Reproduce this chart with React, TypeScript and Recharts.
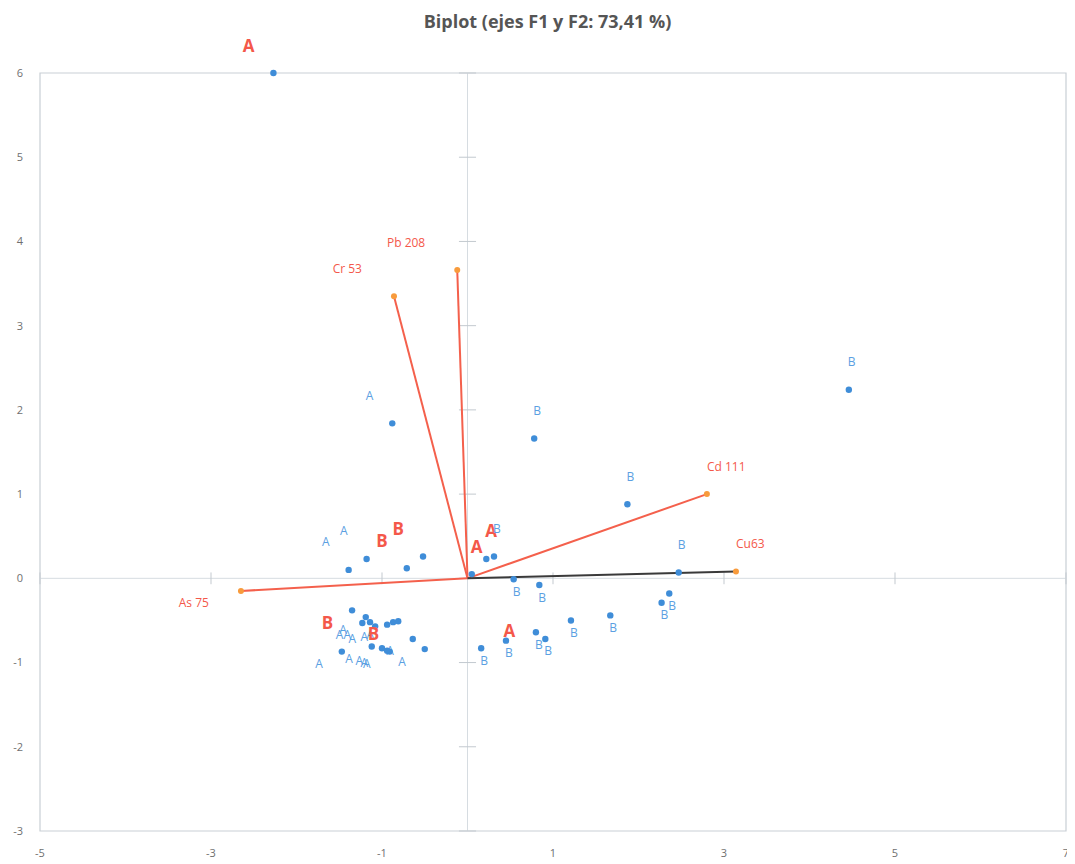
import React from "react";
import {
  ReferenceArea,
  ReferenceLine,
  Scatter,
  ScatterChart,
  XAxis,
  YAxis,
} from "recharts";

// Observations (F1, F2) with their group letter
const obsF1 = [
  -2.27, -0.88, 0.78, 4.46, 1.87, -1.39, -1.18, -0.71, -0.52, 0.22, 0.31, 0.05, 2.47,
  0.54, 0.84, 2.36, 2.27, 1.67, 1.21, 0.8, 0.91, 0.45, 0.16,
  -1.35, -1.19, -1.23, -1.14, -1.08, -0.94, -0.87, -0.81, -0.64, -0.5, -1.12, -1.0, -0.94, -0.91, -1.47,
];
const obsF2 = [
  6.0, 1.84, 1.66, 2.24, 0.88, 0.1, 0.23, 0.12, 0.26, 0.23, 0.26, 0.05, 0.07,
  -0.01, -0.08, -0.18, -0.29, -0.44, -0.5, -0.64, -0.72, -0.74, -0.83,
  -0.38, -0.46, -0.53, -0.52, -0.57, -0.55, -0.52, -0.51, -0.72, -0.84, -0.81, -0.83, -0.86, -0.87, -0.87,
];
const obsGroup = [
  "A", "A", "B", "B", "B", "A", "A", "B", "B", "A", "B", "A", "B",
  "B", "B", "B", "B", "B", "B", "B", "B", "B", "B",
  "B", "A", "A", "A", "A", "A", "A", "B", "A", "A", "A", "A", "A", "A", "A",
];
// observations whose label was marked in red
const highlighted = [0, 7, 8, 9, 11, 23, 30];

// extra red mark without a visible point
const noteF1 = [0.49];
const noteF2 = [-0.62];
const noteText = ["A"];

// Variables (loadings)
const varNames = ["As 75", "Cr 53", "Pb 208", "Cd 111", "Cu63"];
const varF1 = [-2.65, -0.86, -0.12, 2.8, 3.14];
const varF2 = [-0.15, 3.35, 3.66, 1.0, 0.08];
const varColor = ["#f4604c", "#f4604c", "#f4604c", "#f4604c", "#3a3a3a"];

const xTicks = [-5, -3, -1, 1, 3, 5, 7];
const yTicks = [-3, -2, -1, 0, 1, 2, 3, 4, 5, 6];

const BLUE = "#3f8dd8";
const BLUE_TXT = "#5ba0e2";
const RED = "#f4584a";
const ORANGE = "#f89b3c";
const FONT = "'Open Sans', sans-serif";

const observations = obsF1.map((x, i) => ({
  x,
  y: obsF2[i],
  label: obsGroup[i],
  hi: highlighted.includes(i),
}));

const notes = noteF1.map((x, i) => ({ x, y: noteF2[i], label: noteText[i] }));

function ObsShape(props: any) {
  const { cx, cy, payload } = props;
  const left = payload.x < 0;
  const up = payload.y > 0;
  return (
    <g>
      <circle cx={cx} cy={cy} r={3.2} fill={BLUE} />
      <text
        x={cx + (left ? -19 : -1)}
        y={cy + (up ? -28 : 12)}
        textAnchor={left ? "end" : "start"}
        dominantBaseline="central"
        fontFamily={FONT}
        fontSize={payload.hi ? 17 : 12}
        fontWeight={payload.hi ? 700 : 400}
        fill={payload.hi ? RED : BLUE_TXT}
      >
        {payload.label}
      </text>
    </g>
  );
}

function NoteShape(props: any) {
  const { cx, cy, payload } = props;
  return (
    <text
      x={cx}
      y={cy}
      textAnchor="middle"
      dominantBaseline="central"
      fontFamily={FONT}
      fontSize={17}
      fontWeight={700}
      fill={RED}
    >
      {payload.label}
    </text>
  );
}

function VarShape(props: any) {
  const { cx, cy, payload } = props;
  if (!payload.name) return <g />;
  const left = payload.x < 0;
  const up = payload.y > 0;
  return (
    <g>
      <circle cx={cx} cy={cy} r={3} fill={ORANGE} />
      <text
        x={cx + (left ? -32 : 0)}
        y={cy + (up ? -28 : 12)}
        textAnchor={left ? "end" : "start"}
        dominantBaseline="central"
        fontFamily={FONT}
        fontSize={12}
        fill={RED}
      >
        {payload.name}
      </text>
    </g>
  );
}

export default function App() {
  const tick = { fill: "#6f6f6f", fontSize: 11, fontFamily: FONT };
  return (
    <div style={{ position: "relative", width: 1067, height: 856 }}>
      <div
        style={{
          position: "absolute",
          top: 1,
          left: 0,
          width: 1079,
          textAlign: "center",
          fontFamily: FONT,
          fontWeight: 700,
          fontSize: 18,
          color: "#555",
        }}
      >
        Biplot (ejes F1 y F2: 73,41 %)
      </div>
      <ScatterChart width={1067} height={856} margin={{ top: 65, right: 9, bottom: 8, left: 8 }}>
        <XAxis
          type="number"
          dataKey="x"
          domain={[-5, 7]}
          ticks={xTicks}
          axisLine={false}
          tickLine={false}
          tickSize={0}
          tickMargin={18}
          height={25}
          tick={tick}
        />
        <YAxis
          type="number"
          dataKey="y"
          domain={[-3, 6]}
          ticks={yTicks}
          axisLine={false}
          tickLine={false}
          tickSize={0}
          tickMargin={17}
          width={24}
          tick={tick}
        />
        <ReferenceArea x1={-5} x2={7} y1={-3} y2={6} fill="none" stroke="#c9cfd5" strokeWidth={1.2} />
        <ReferenceLine x={0} stroke="#d6dce1" />
        <ReferenceLine y={0} stroke="#d6dce1" />
        {xTicks.map((t) => (
          <ReferenceLine
            key={`xt${t}`}
            segment={[
              { x: t, y: -0.07 },
              { x: t, y: 0.07 },
            ]}
            stroke="#c3c9cf"
          />
        ))}
        {yTicks.map((t) => (
          <ReferenceLine
            key={`yt${t}`}
            segment={[
              { x: -0.1, y: t },
              { x: 0.1, y: t },
            ]}
            stroke="#c3c9cf"
          />
        ))}
        {varNames.map((name, i) => (
          <Scatter
            key={name}
            data={[
              { x: 0, y: 0 },
              { x: varF1[i], y: varF2[i], name },
            ]}
            line={{ stroke: varColor[i], strokeWidth: 2 }}
            shape={VarShape}
            isAnimationActive={false}
          />
        ))}
        <Scatter data={observations} shape={ObsShape} isAnimationActive={false} />
        <Scatter data={notes} shape={NoteShape} isAnimationActive={false} />
      </ScatterChart>
    </div>
  );
}
